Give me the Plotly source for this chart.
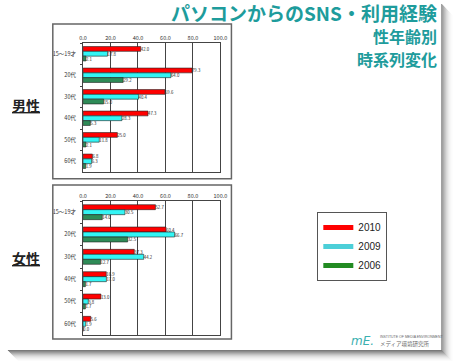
import plotly.graph_objects as go

W, H = 460, 361

categories = ["15～19才", "20代", "30代", "40代", "50代", "60代"]
years = ["2010", "2009", "2006"]

male_2010 = [42.0, 79.3, 59.6, 47.3, 25.0, 6.8]
male_2009 = [17.8, 64.0, 40.4, 28.3, 11.8, 6.3]
male_2006 = [2.1, 29.2, 15.0, 5.3, 2.1, 1.9]

female_2010 = [52.7, 60.4, 37.3, 16.9, 13.0, 5.6]
female_2009 = [30.5, 66.7, 44.2, 17.0, 3.8, 1.9]
female_2006 = [14.0, 32.5, 12.7, 1.7, 1.7, 0.0]

bar_colors = {"2010": "#FF0000", "2009": "#33F5F5", "2006": "#2E8B57"}
legend_colors = {"2010": "#FF0000", "2009": "#4CCFD8", "2006": "#228B22"}

FONT = "Noto Sans CJK JP"


def px_x(p):
    return p / W


def px_y(p):
    return 1 - p / H


fig = go.Figure()

male = {"2010": male_2010, "2009": male_2009, "2006": male_2006}
female = {"2010": female_2010, "2009": female_2009, "2006": female_2006}

for data, xa, ya in [(male, "x", "y"), (female, "x2", "y2")]:
    for yr in years:
        fig.add_trace(go.Bar(
            y=categories, x=data[yr], orientation="h",
            marker=dict(color=bar_colors[yr], line=dict(color="#222", width=0.6)),
            text=data[yr], texttemplate="%{x:.1f}", textposition="outside",
            textfont=dict(size=4.3, color="#222", family=FONT),
            constraintext="none", cliponaxis=False,
            showlegend=False, xaxis=xa, yaxis=ya, hoverinfo="skip",
        ))

for yr in years:
    fig.add_trace(go.Scatter(
        x=[None], y=[None], mode="lines", name=yr,
        line=dict(color=legend_colors[yr], width=5),
        xaxis="x", yaxis="y", showlegend=True,
    ))

xdom = [px_x(81), px_x(221.7)]
common_x = dict(
    range=[0, 100], side="top", tickvals=[0, 20, 40, 60, 80, 100], tickformat=".1f",
    tickfont=dict(size=5.5, color="#333", family=FONT), showgrid=True,
    gridcolor="#444", gridwidth=1, showline=True, linecolor="#444", linewidth=1,
    mirror=True, zeroline=False, ticks="", fixedrange=True,
)
common_y = dict(
    type="category", categoryorder="array", categoryarray=categories,
    autorange="reversed", tickfont=dict(size=5.5, color="#333", family=FONT),
    showgrid=False, showline=True, linecolor="#444", linewidth=1, mirror=True,
    ticks="outside", ticklen=2, tickcolor="#444", tickson="boundaries",
    ticklabelstandoff=5, fixedrange=True,
)

fig.update_layout(
    width=W, height=H, margin=dict(l=0, r=0, t=0, b=0),
    paper_bgcolor="white", plot_bgcolor="white",
    barmode="group", bargap=0.33, bargroupgap=0.0,
    xaxis=dict(domain=xdom, anchor="y", **common_x),
    yaxis=dict(domain=[px_y(172), px_y(43)], anchor="x", **common_y),
    xaxis2=dict(domain=xdom, anchor="y2", **common_x),
    yaxis2=dict(domain=[px_y(335), px_y(201)], anchor="x2", **common_y),
    legend=dict(
        x=px_x(321), y=px_y(212), xanchor="left", yanchor="top",
        bordercolor="#555", borderwidth=1, bgcolor="white",
        font=dict(size=10, color="#222", family="Liberation Sans"),
        itemwidth=30, tracegroupgap=0,
    ),
    font=dict(family=FONT),
)

shapes = []
# chart frames
for (x0, y0, x1, y1) in [(50, 24, 233, 178.7), (50, 185, 233, 339)]:
    shapes.append(dict(type="rect", xref="paper", yref="paper",
                       x0=px_x(x0), x1=px_x(x1), y0=px_y(y1), y1=px_y(y0),
                       line=dict(color="#666", width=1.5), fillcolor="rgba(0,0,0,0)"))
# slide shadow (right and bottom)
shadow = ["#7a7a7a", "#8c8c8c", "#9e9e9e", "#b0b0b0", "#c2c2c2", "#d2d2d2",
          "#dfdfdf", "#e9e9e9", "#f1f1f1", "#f7f7f7", "#fbfbfb", "#fdfdfd"]
for i, c in enumerate(shadow):
    shapes.append(dict(type="rect", xref="paper", yref="paper",
                       x0=px_x(448 + i), x1=px_x(449 + i), y0=px_y(351 + i), y1=px_y(4 + i),
                       line=dict(width=0), fillcolor=c, layer="below"))
    shapes.append(dict(type="rect", xref="paper", yref="paper",
                       x0=px_x(4 + i), x1=px_x(449 + i), y0=px_y(351 + i), y1=px_y(350 + i),
                       line=dict(width=0), fillcolor=c, layer="below"))
fig.update_layout(shapes=shapes)

teal = "#1E9C9C"
ann = [
    dict(text="<b>パソコンからのSNS・利用経験</b>", x=px_x(446), y=px_y(12), xanchor="right",
         yanchor="middle", font=dict(size=19, color=teal, family=FONT)),
    dict(text="<b>性年齢別</b>", x=px_x(446), y=px_y(35.5), xanchor="right",
         yanchor="middle", font=dict(size=16, color=teal, family=FONT)),
    dict(text="<b>時系列変化</b>", x=px_x(446), y=px_y(58.5), xanchor="right",
         yanchor="middle", font=dict(size=16, color=teal, family=FONT)),
    dict(text="<b><u>男性</u></b>", x=px_x(23), y=px_y(105), xanchor="center",
         yanchor="middle", font=dict(size=14, color="#222", family=FONT)),
    dict(text="<b><u>女性</u></b>", x=px_x(23), y=px_y(258), xanchor="center",
         yanchor="middle", font=dict(size=14, color="#222", family=FONT)),
    dict(text="<i>mE.</i>", x=px_x(367), y=px_y(341), xanchor="center",
         yanchor="middle", font=dict(size=12, color="#3AB0B0", family="DejaVu Sans")),
    dict(text="INSTITUTE OF MEDIA ENVIRONMENT", x=px_x(383), y=px_y(337), xanchor="left",
         yanchor="middle", font=dict(size=3.5, color="#666", family="Liberation Sans")),
    dict(text="メディア環境研究所", x=px_x(383), y=px_y(344), xanchor="left",
         yanchor="middle", font=dict(size=5.5, color="#666", family=FONT)),
]
for a in ann:
    a.update(xref="paper", yref="paper", showarrow=False)
fig.update_layout(annotations=ann)

fig.write_html("out.html", config={"displayModeBar": False},
               post_script="document.body.style.margin='0';")
